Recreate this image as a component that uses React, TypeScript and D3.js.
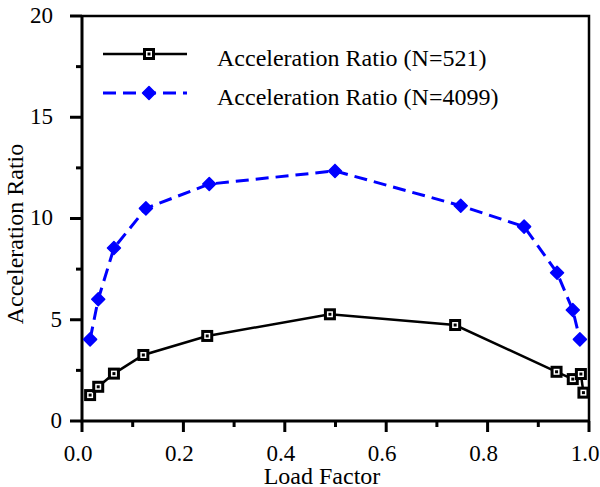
import React, { useEffect, useRef } from "react";
import * as d3 from "d3";

// values
const loadN521 = [0.016, 0.032, 0.063, 0.121, 0.247, 0.489, 0.736, 0.936, 0.968, 0.984, 0.989];
const ratioN521 = [1.28, 1.69, 2.34, 3.26, 4.2, 5.27, 4.74, 2.43, 2.07, 2.32, 1.4];
const loadN4099 = [0.016, 0.032, 0.063, 0.126, 0.251, 0.499, 0.747, 0.872, 0.937, 0.968, 0.982];
const ratioN4099 = [4.03, 6.01, 8.54, 10.5, 11.7, 12.35, 10.63, 9.6, 7.32, 5.48, 4.03];

const xMajorTicks = [0, 0.2, 0.4, 0.6, 0.8, 1.0];
const xMinorTicks = [0.1, 0.3, 0.5, 0.7, 0.9];
const yMajorTicks = [0, 5, 10, 15, 20];
const yMinorTicks = [2.5, 7.5, 12.5, 17.5];
const seriesNames = ["Acceleration Ratio (N=521)", "Acceleration Ratio (N=4099)"];

const FONT = "Liberation Serif, Times New Roman, Times, serif";
const BLUE = "#0000ff";

const App = () => {
    const svgRef = useRef<SVGSVGElement>(null);

    useEffect(() => {
        const width = 600;
        const height = 487;
        const margin = { top: 16, right: 11, bottom: 66, left: 82 };
        const w = width - margin.left - margin.right;
        const h = height - margin.top - margin.bottom;

        const root = d3.select(svgRef.current);
        root.selectAll("*").remove();
        root.attr("width", width).attr("height", height).style("font-family", FONT);

        const svg = root.append("g")
            .attr("transform", `translate(${margin.left},${margin.top})`);

        const x = d3.scaleLinear().domain([0, 1]).range([0, w]);
        const y = d3.scaleLinear().domain([0, 20]).range([h, 0]);

        // frame (top + right)
        svg.append("path")
            .attr("d", `M0,0H${w}V${h}`)
            .attr("fill", "none")
            .attr("stroke", "#000")
            .attr("stroke-width", 2.5);

        // ticks, all pointing outward
        const tickG = svg.append("g").attr("stroke", "#000").attr("stroke-width", 3);
        xMajorTicks.forEach((t) => tickG.append("line").attr("x1", x(t)).attr("x2", x(t)).attr("y1", h).attr("y2", h + 11));
        xMinorTicks.forEach((t) => tickG.append("line").attr("x1", x(t)).attr("x2", x(t)).attr("y1", h).attr("y2", h + 6));
        yMajorTicks.forEach((t) => tickG.append("line").attr("x1", -12).attr("x2", 0).attr("y1", y(t)).attr("y2", y(t)));
        yMinorTicks.forEach((t) => tickG.append("line").attr("x1", -6).attr("x2", 0).attr("y1", y(t)).attr("y2", y(t)));

        // axis lines
        svg.append("path")
            .attr("d", `M0,0V${h}H${w}`)
            .attr("fill", "none")
            .attr("stroke", "#000")
            .attr("stroke-width", 3);

        // tick labels
        svg.append("g").selectAll("text")
            .data(xMajorTicks)
            .enter()
            .append("text")
            .attr("x", (d) => x(d) - 4)
            .attr("y", h + 40)
            .attr("text-anchor", "middle")
            .attr("font-size", 23)
            .text((d) => d3.format(".1f")(d));

        svg.append("g").selectAll("text")
            .data(yMajorTicks)
            .enter()
            .append("text")
            .attr("x", (d) => (String(d).length > 1 ? -29 : -20))
            .attr("y", (d) => y(d))
            .attr("dy", "0.3em")
            .attr("text-anchor", "end")
            .attr("font-size", 23)
            .text((d) => String(d));

        // axis titles
        svg.append("text")
            .attr("x", 240)
            .attr("y", h + 63)
            .attr("text-anchor", "middle")
            .attr("font-size", 24)
            .text("Load Factor");

        svg.append("text")
            .attr("transform", `translate(${-59},${218}) rotate(-90)`)
            .attr("text-anchor", "middle")
            .attr("font-size", 24)
            .text("Acceleration Ratio");

        const line = d3.line<[number, number]>()
            .x((d) => x(d[0]))
            .y((d) => y(d[1]));

        const black: [number, number][] = loadN521.map((l, i) => [l, ratioN521[i]]);
        const blue: [number, number][] = loadN4099.map((l, i) => [l, ratioN4099[i]]);

        const drawSquare = (g: any, cx: number, cy: number) => {
            g.append("rect")
                .attr("x", cx - 4.5).attr("y", cy - 4.5)
                .attr("width", 9).attr("height", 9)
                .attr("fill", "#fff")
                .attr("stroke", "#000")
                .attr("stroke-width", 3);
            g.append("rect")
                .attr("x", cx - 1.5).attr("y", cy - 1.5)
                .attr("width", 3).attr("height", 3)
                .attr("fill", "#000");
        };
        const drawDiamond = (g: any, cx: number, cy: number) => {
            const r = 6.5;
            g.append("path")
                .attr("d", `M${cx},${cy - r}L${cx + r},${cy}L${cx},${cy + r}L${cx - r},${cy}Z`)
                .attr("fill", BLUE)
                .attr("stroke", BLUE)
                .attr("stroke-width", 1.5)
                .attr("stroke-linejoin", "round");
        };

        // N=4099 dashed blue
        svg.append("path")
            .datum(blue)
            .attr("d", line)
            .attr("fill", "none")
            .attr("stroke", BLUE)
            .attr("stroke-width", 3)
            .attr("stroke-dasharray", "13,7");
        const blueMarks = svg.append("g");
        blue.forEach((d) => drawDiamond(blueMarks, x(d[0]), y(d[1])));

        // N=521 solid black
        svg.append("path")
            .datum(black)
            .attr("d", line)
            .attr("fill", "none")
            .attr("stroke", "#000")
            .attr("stroke-width", 2.5);
        const blackMarks = svg.append("g");
        black.forEach((d) => drawSquare(blackMarks, x(d[0]), y(d[1])));

        // legend
        const legend = root.append("g");
        legend.append("line")
            .attr("x1", 103).attr("x2", 187).attr("y1", 54).attr("y2", 54)
            .attr("stroke", "#000").attr("stroke-width", 2.5);
        drawSquare(legend, 149, 54);
        legend.append("line")
            .attr("x1", 103).attr("x2", 187).attr("y1", 93).attr("y2", 93)
            .attr("stroke", BLUE).attr("stroke-width", 3)
            .attr("stroke-dasharray", "13,7");
        drawDiamond(legend, 149, 93);
        seriesNames.forEach((name, i) => {
            legend.append("text")
                .attr("x", 217)
                .attr("y", 66 + i * 39)
                .attr("font-size", 24)
                .text(name);
        });
    }, []);

    return (
        <div>
            <svg ref={svgRef} style={{ position: "absolute", left: 0, top: 0 }}></svg>
        </div>
    );
};

export default App;
